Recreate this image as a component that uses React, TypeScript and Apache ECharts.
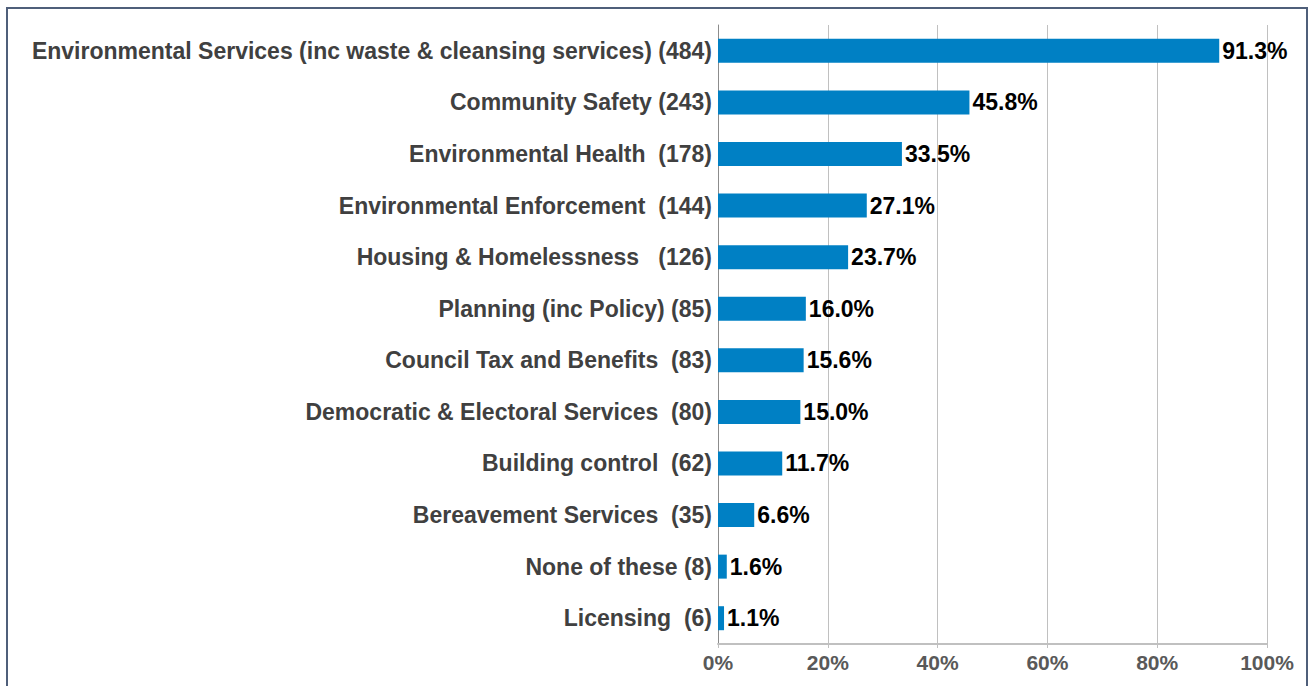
import React, { useEffect, useRef } from "react";
import * as echarts from "echarts";

const categories = [
  "Environmental Services (inc waste & cleansing services) (484)",
  "Community Safety (243)",
  "Environmental Health  (178)",
  "Environmental Enforcement  (144)",
  "Housing & Homelessness   (126)",
  "Planning (inc Policy) (85)",
  "Council Tax and Benefits  (83)",
  "Democratic & Electoral Services  (80)",
  "Building control  (62)",
  "Bereavement Services  (35)",
  "None of these (8)",
  "Licensing  (6)",
];
const values = [91.3, 45.8, 33.5, 27.1, 23.7, 16.0, 15.6, 15.0, 11.7, 6.6, 1.6, 1.1];
const xTicks = [0, 20, 40, 60, 80, 100];

const FONT = "'Liberation Sans', Arial, sans-serif";

export default function App() {
  const ref = useRef<HTMLDivElement>(null);
  useEffect(() => {
    if (!ref.current) return;
    const chart = echarts.init(ref.current, null, { renderer: "svg" });
    chart.setOption({
      animation: false,
      backgroundColor: "#ffffff",
      textStyle: { fontFamily: FONT },
      graphic: [
        {
          type: "rect",
          shape: { x: 7, y: 8, width: 1300, height: 700 },
          style: { fill: "none", stroke: "#4f5f7a", lineWidth: 2 },
          silent: true,
        },
      ],
      grid: { left: 718, right: 44, top: 25, bottom: 42, containLabel: false },
      xAxis: {
        type: "value",
        min: xTicks[0],
        max: xTicks[xTicks.length - 1],
        interval: 20,
        axisLine: { show: true, lineStyle: { color: "#c0c0c0", width: 2 } },
        axisTick: { show: true, length: 4, lineStyle: { color: "#c0c0c0" } },
        splitLine: { show: true, lineStyle: { color: "#c0c0c0", width: 1 } },
        axisLabel: {
          formatter: (v: number) => `${v}%`,
          fontSize: 21,
          fontWeight: "bold",
          color: "#595959",
          fontFamily: FONT,
          margin: 8,
        },
      },
      yAxis: {
        type: "category",
        inverse: true,
        data: categories,
        axisLine: { show: true, lineStyle: { color: "#8c8c8c", width: 1 } },
        axisTick: { show: false },
        axisLabel: {
          fontSize: 23,
          fontWeight: "bold",
          color: "#404040",
          fontFamily: FONT,
          margin: 6,
        },
      },
      series: [
        {
          type: "bar",
          data: values,
          barWidth: 24,
          itemStyle: { color: "#0080c4" },
          label: {
            show: true,
            position: "right",
            distance: 3,
            formatter: (p: any) => `${Number(p.value).toFixed(1)}%`,
            fontSize: 23,
            fontWeight: "bold",
            color: "#000000",
            fontFamily: FONT,
          },
        },
      ],
    });
    return () => chart.dispose();
  }, []);
  return (
    <div
      ref={ref}
      style={{ position: "fixed", left: 0, top: 0, width: 1311, height: 686 }}
    />
  );
}
